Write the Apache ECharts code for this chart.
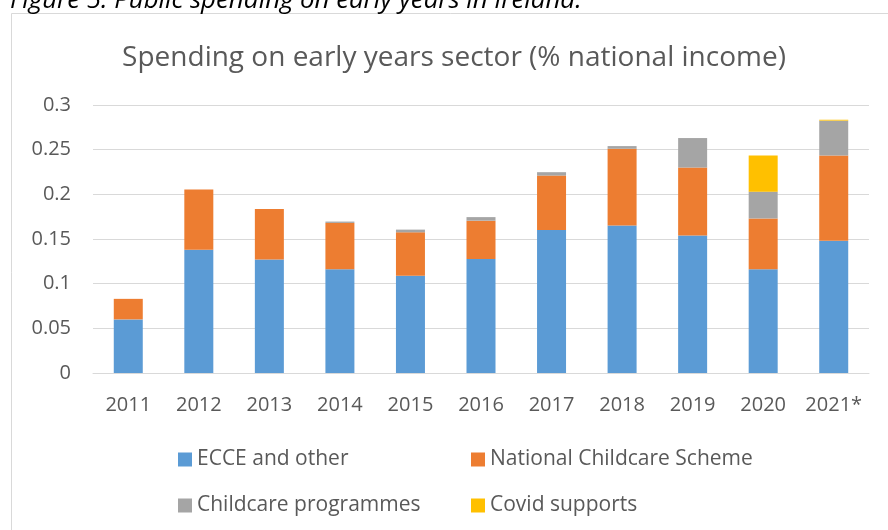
<!DOCTYPE html>
<html>
<head>
<meta charset="utf-8">
<script src="https://cdn.jsdelivr.net/npm/echarts@6/dist/echarts.min.js"></script>
<style>
  html, body { margin: 0; padding: 0; background: #fff; }
  #chart { width: 888px; height: 530px; }
</style>
</head>
<body>
<div id="chart"></div>
<script>
// Public spending on early years in Ireland, % of national income
const years = ['2011', '2012', '2013', '2014', '2015', '2016', '2017', '2018', '2019', '2020', '2021*'];
const ecceOther = [0.060, 0.138, 0.127, 0.116, 0.109, 0.1275, 0.160, 0.165, 0.154, 0.116, 0.148];
const nationalChildcare = [0.023, 0.0675, 0.0565, 0.052, 0.0485, 0.043, 0.061, 0.086, 0.076, 0.057, 0.0955];
const childcareProgrammes = [0, 0, 0, 0.0015, 0.003, 0.004, 0.0038, 0.003, 0.033, 0.030, 0.039];
const covidSupports = [0, 0, 0, 0, 0, 0, 0, 0, 0, 0.0405, 0.001];
const yTicks = ['0', '0.05', '0.1', '0.15', '0.2', '0.25', '0.3'];

const FONT = '"Open Sans", "Noto Sans", sans-serif';
const TXT = '#595959';

const chart = echarts.init(document.getElementById('chart'), null, { renderer: 'canvas' });

function bar(name, data, color) {
  return {
    name: name,
    type: 'bar',
    stack: 'total',
    barWidth: 29,
    data: data,
    itemStyle: { color: color },
    emphasis: { disabled: true }
  };
}

const legendText = { color: TXT, fontSize: 21, fontFamily: FONT };

chart.setOption({
  animation: false,
  backgroundColor: '#ffffff',
  title: {
    text: 'Spending on early years sector (% national income)',
    left: 449,
    textAlign: 'center',
    top: 39,
    textStyle: { color: TXT, fontSize: 28, fontWeight: 'normal', fontFamily: FONT }
  },
  graphic: [
    {
      type: 'rect',
      shape: { x: 11.5, y: 13.5, width: 900, height: 540 },
      style: { fill: 'none', stroke: '#D9D9D9', lineWidth: 1 },
      silent: true
    },
    {
      type: 'text',
      silent: true,
      style: {
        x: 10,
        y: 1,
        verticalAlign: 'middle',
        text: 'Figure 5: Public spending on early years in Ireland.',
        fill: '#000',
        font: 'italic 25.8px ' + FONT
      }
    }
  ],
  legend: [
    {
      data: ['ECCE and other', 'Childcare programmes'],
      orient: 'vertical',
      left: 173,
      top: 444,
      itemWidth: 14,
      itemHeight: 14,
      itemGap: 25,
      icon: 'rect',
      textStyle: legendText,
      selectedMode: false
    },
    {
      data: ['National Childcare Scheme', 'Covid supports'],
      orient: 'vertical',
      left: 466,
      top: 444,
      itemWidth: 14,
      itemHeight: 14,
      itemGap: 25,
      icon: 'rect',
      textStyle: legendText,
      selectedMode: false
    }
  ],
  grid: { left: 93, right: 19, top: 105, bottom: 157, containLabel: false },
  xAxis: {
    type: 'category',
    data: years,
    axisLine: { show: true, lineStyle: { color: '#D9D9D9', width: 1 } },
    axisTick: { show: false },
    axisLabel: { color: TXT, fontSize: 20, fontFamily: FONT, margin: 22, interval: 0, hideOverlap: false }
  },
  yAxis: {
    type: 'value',
    min: 0,
    max: 0.3,
    interval: 0.05,
    axisLine: { show: false },
    axisTick: { show: false },
    splitLine: { lineStyle: { color: '#D9D9D9', width: 1 } },
    axisLabel: {
      color: TXT, fontSize: 20, fontFamily: FONT, margin: 22,
      formatter: function (v) { return yTicks[Math.round(v / 0.05)]; }
    }
  },
  series: [
    bar('ECCE and other', ecceOther, '#5B9BD5'),
    bar('National Childcare Scheme', nationalChildcare, '#ED7D31'),
    bar('Childcare programmes', childcareProgrammes, '#A5A5A5'),
    bar('Covid supports', covidSupports, '#FFC000')
  ]
});
</script>
</body>
</html>
